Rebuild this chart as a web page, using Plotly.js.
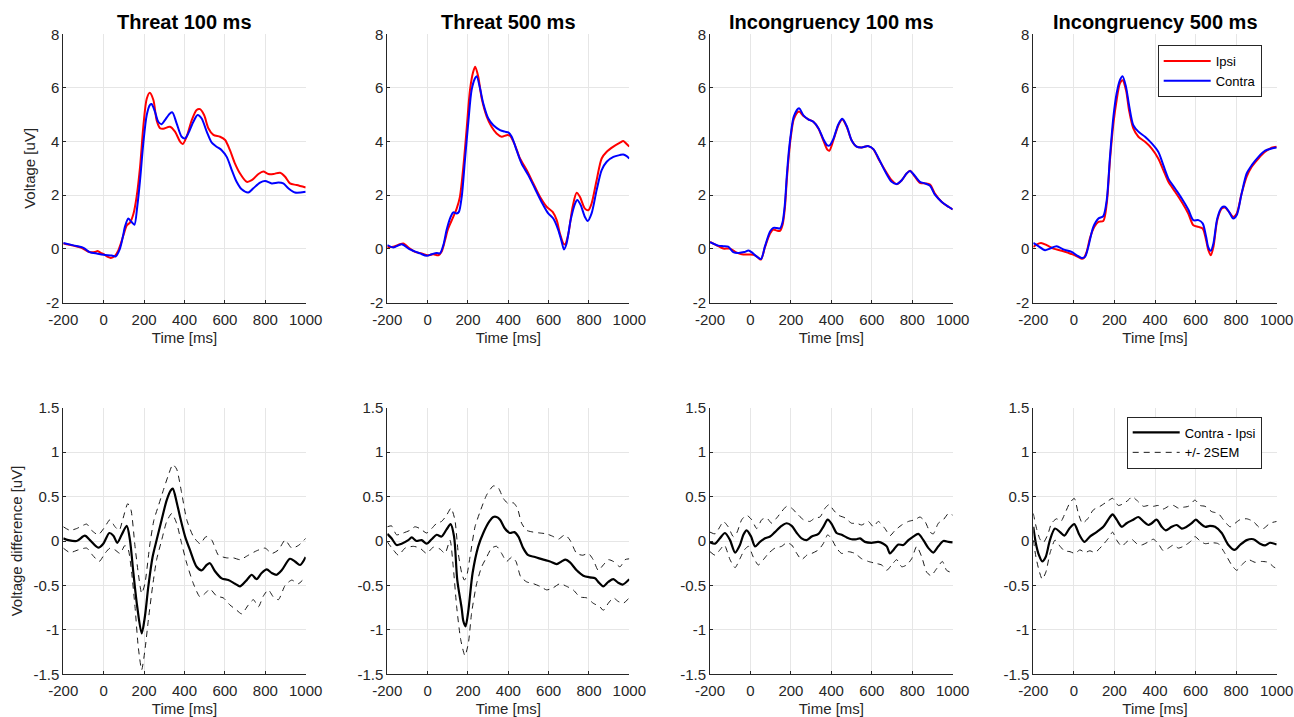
<!DOCTYPE html>
<html>
<head>
<meta charset="utf-8">
<script src="https://cdn.plot.ly/plotly-3.0.1.min.js"></script>
<style>html,body{margin:0;padding:0;background:#fff;}#chart{width:1294px;height:717px;}</style>
</head>
<body>
<div id="chart"></div>
<script>
// ---------- DATA (time in ms, voltage in uV) ----------
const panelTitles = ['Threat 100 ms', 'Threat 500 ms', 'Incongruency 100 ms', 'Incongruency 500 ms'];
const xTickVals = [-200, 0, 200, 400, 600, 800, 1000];
const xTickText = ['-200', '0', '200', '400', '600', '800', '1000'];
const yTopTickVals = [-2, 0, 2, 4, 6, 8];
const yTopTickText = ['-2', '0', '2', '4', '6', '8'];
const yBotTickVals = [-1.5, -1, -0.5, 0, 0.5, 1, 1.5];
const yBotTickText = ['-1.5', '-1', '-0.5', '0', '0.5', '1', '1.5'];

// Top row: Ipsi / Contra
const threat100_ipsi = [[-200,0.2],[-150,0.12],[-110,0.04],[-70,-0.12],[-45,-0.12],[-30,-0.08],[-15,-0.15],[0,-0.2],[20,-0.3],[35,-0.34],[55,-0.27],[70,-0.1],[85,0.2],[100,0.57],[115,0.88],[130,0.98],[147,1.3],[163,1.95],[180,3.06],[196,4.55],[213,5.6],[228,5.82],[246,5.55],[262,4.8],[279,4.5],[295,4.48],[328,4.55],[353,4.37],[378,4.0],[391,3.91],[411,4.19],[436,4.8],[460,5.18],[477,5.21],[497,4.99],[518,4.5],[543,4.25],[576,4.18],[601,4.06],[625,3.68],[650,3.18],[675,2.81],[708,2.5],[733,2.56],[766,2.79],[790,2.88],[815,2.79],[840,2.79],[873,2.84],[898,2.69],[922,2.44],[955,2.38],[1000,2.29]];
const threat100_contra = [[-200,0.22],[-150,0.13],[-100,0.04],[-70,-0.12],[-30,-0.18],[0,-0.22],[40,-0.25],[60,-0.28],[80,0.0],[95,0.45],[105,0.82],[122,1.13],[138,1.0],[152,0.9],[166,1.57],[180,2.56],[196,3.93],[213,4.99],[229,5.37],[237,5.4],[254,5.11],[270,4.74],[287,4.65],[303,4.8],[328,5.05],[340,5.09],[361,4.68],[386,4.18],[403,4.12],[419,4.31],[444,4.74],[465,4.99],[485,4.86],[510,4.37],[535,3.96],[559,3.81],[584,3.68],[609,3.43],[634,2.94],[658,2.5],[683,2.22],[716,2.1],[741,2.26],[774,2.47],[799,2.53],[832,2.44],[865,2.47],[889,2.44],[914,2.26],[947,2.1],[1000,2.13]];

const threat500_ipsi = [[-200,0.07],[-170,0.08],[-137,0.17],[-121,0.2],[-88,0.01],[-63,-0.11],[-30,-0.17],[0,-0.24],[28,-0.2],[53,-0.24],[69,-0.11],[86,0.32],[102,0.76],[127,1.19],[144,1.5],[160,1.94],[177,3.06],[193,4.43],[210,5.92],[226,6.6],[236,6.79],[251,6.42],[268,5.61],[293,4.93],[317,4.55],[342,4.3],[367,4.18],[392,4.24],[408,4.22],[433,3.87],[458,3.37],[491,2.94],[524,2.44],[557,1.94],[590,1.57],[620,1.38],[640,1.07],[656,0.57],[673,0.2],[681,0.16],[698,0.57],[719,1.57],[739,2.09],[755,1.94],[780,1.5],[797,1.44],[813,1.69],[838,2.56],[863,3.37],[888,3.62],[921,3.81],[954,3.96],[970,4.02],[987,3.91],[1000,3.81]];
const threat500_contra = [[-200,0.14],[-170,0.05],[-129,0.17],[-88,-0.02],[-38,-0.17],[-5,-0.26],[20,-0.2],[45,-0.15],[61,-0.17],[78,0.14],[94,0.7],[114,1.19],[127,1.36],[144,1.32],[155,1.38],[169,1.94],[185,3.31],[202,4.74],[218,5.92],[235,6.36],[243,6.44],[260,5.98],[276,5.42],[301,4.86],[326,4.61],[359,4.43],[383,4.37],[400,4.34],[417,4.18],[441,3.68],[466,3.18],[499,2.75],[532,2.25],[565,1.75],[598,1.32],[623,1.13],[648,0.7],[665,0.26],[676,-0.02],[689,0.2],[709,1.07],[731,1.69],[742,1.82],[759,1.63],[780,1.19],[794,1.04],[813,1.32],[838,2.19],[863,2.94],[888,3.25],[921,3.43],[954,3.5],[970,3.52],[987,3.46],[1000,3.37]];

const incong100_ipsi = [[-200,0.26],[-159,0.1],[-134,0.01],[-101,0.01],[-68,-0.14],[-35,-0.21],[0,-0.21],[23,-0.24],[42,-0.36],[52,-0.4],[72,0.07],[97,0.57],[113,0.72],[130,0.68],[146,0.67],[159,0.9],[170,1.5],[180,2.6],[190,3.5],[200,4.2],[215,4.85],[240,5.12],[262,4.95],[286,4.83],[311,4.74],[336,4.49],[360,4.05],[380,3.7],[390,3.66],[410,4.05],[435,4.61],[454,4.82],[476,4.55],[500,4.05],[525,3.81],[550,3.78],[583,3.83],[608,3.71],[632,3.37],[665,2.94],[698,2.56],[723,2.41],[748,2.56],[772,2.81],[789,2.91],[813,2.69],[838,2.46],[863,2.44],[888,2.4],[912,2.06],[946,1.75],[979,1.57],[1000,1.47]];
const incong100_contra = [[-200,0.25],[-159,0.12],[-134,0.1],[-110,0.08],[-85,-0.12],[-60,-0.15],[-30,-0.12],[-10,-0.06],[10,-0.15],[30,-0.28],[52,-0.38],[72,0.1],[97,0.65],[113,0.78],[130,0.78],[146,0.76],[159,1.0],[170,1.65],[180,2.75],[190,3.65],[200,4.3],[215,4.95],[240,5.24],[262,4.98],[286,4.83],[311,4.74],[336,4.5],[360,4.1],[380,3.86],[392,3.86],[410,4.1],[435,4.65],[454,4.85],[476,4.58],[500,4.05],[525,3.81],[550,3.78],[583,3.83],[608,3.72],[632,3.4],[665,2.9],[698,2.5],[723,2.42],[748,2.56],[772,2.81],[789,2.9],[813,2.72],[838,2.5],[863,2.44],[888,2.35],[912,2.02],[946,1.75],[979,1.57],[1000,1.47]];

const incong500_ipsi = [[-200,0.07],[-184,0.16],[-162,0.22],[-134,0.14],[-101,0.01],[-60,-0.07],[-27,-0.15],[5,-0.24],[35,-0.36],[47,-0.36],[63,-0.11],[79,0.39],[101,0.82],[121,1.01],[145,1.04],[162,1.69],[178,3.31],[195,4.68],[211,5.55],[227,6.17],[240,6.29],[257,5.92],[272,5.17],[293,4.49],[318,4.18],[351,3.99],[384,3.74],[416,3.37],[441,2.94],[466,2.5],[499,2.13],[532,1.75],[564,1.32],[589,0.88],[614,0.82],[635,0.76],[652,0.32],[663,-0.05],[675,-0.24],[688,0.07],[707,1.07],[729,1.5],[745,1.54],[765,1.38],[786,1.19],[803,1.32],[827,2.06],[852,2.69],[877,3.06],[910,3.37],[943,3.62],[975,3.77],[1000,3.81]];
const incong500_contra = [[-200,0.22],[-175,0.1],[-142,-0.05],[-118,0.01],[-85,0.1],[-52,-0.02],[-11,-0.11],[14,-0.24],[38,-0.34],[55,-0.3],[71,0.07],[96,0.82],[121,1.13],[145,1.22],[162,1.82],[178,3.43],[195,4.93],[211,5.8],[227,6.29],[240,6.44],[257,6.04],[272,5.36],[293,4.61],[318,4.37],[351,4.18],[384,3.93],[416,3.62],[441,3.12],[466,2.62],[499,2.25],[532,1.88],[564,1.47],[589,1.07],[614,1.07],[635,0.95],[652,0.45],[663,0.05],[675,-0.07],[688,0.2],[707,1.13],[729,1.54],[745,1.57],[765,1.38],[786,1.13],[803,1.26],[827,2.06],[852,2.81],[877,3.12],[910,3.43],[943,3.66],[975,3.74],[1000,3.78]];

// Bottom row: Contra - Ipsi and +/- 2SEM bounds
const threat100_diff = [[-200,0.03],[-175,0.01],[-134,0],[-93,0.06],[-68,0.01],[-27,-0.075],[-2,-0.03],[28,0.09],[48,0.06],[67,-0.02],[89,0.07],[114,0.17],[130,0.01],[147,-0.36],[166,-0.74],[188,-1.04],[204,-0.85],[221,-0.51],[242,-0.18],[262,0.01],[287,0.24],[312,0.46],[332,0.57],[342,0.59],[361,0.44],[378,0.27],[403,0.05],[427,-0.1],[460,-0.29],[485,-0.33],[510,-0.27],[526,-0.25],[551,-0.34],[584,-0.42],[617,-0.44],[650,-0.48],[675,-0.51],[708,-0.44],[733,-0.38],[757,-0.43],[782,-0.36],[807,-0.32],[832,-0.36],[856,-0.38],[881,-0.33],[922,-0.2],[947,-0.23],[972,-0.27],[1000,-0.18]];
const threat100_upper = [[-200,0.16],[-167,0.12],[-134,0.14],[-84,0.19],[-60,0.12],[-27,0.07],[6,0.16],[31,0.24],[56,0.16],[77,0.12],[94,0.24],[119,0.42],[135,0.35],[155,-0.06],[171,-0.36],[188,-0.59],[204,-0.48],[229,-0.03],[249,0.24],[270,0.39],[295,0.57],[320,0.74],[342,0.86],[361,0.81],[386,0.54],[411,0.24],[444,0.05],[477,-0.03],[507,0.05],[535,0.01],[568,-0.16],[609,-0.19],[642,-0.19],[675,-0.21],[716,-0.16],[757,-0.11],[799,-0.08],[832,-0.14],[865,-0.1],[898,0.01],[931,-0.08],[964,-0.05],[1000,0.03]];
const threat100_lower = [[-200,-0.08],[-167,-0.13],[-126,-0.1],[-84,-0.08],[-55,-0.16],[-22,-0.23],[6,-0.14],[31,-0.08],[56,-0.1],[81,-0.14],[105,-0.05],[122,-0.1],[138,-0.35],[155,-0.74],[171,-1.19],[188,-1.45],[204,-1.23],[221,-0.89],[242,-0.51],[262,-0.21],[287,0.01],[312,0.22],[337,0.31],[361,0.2],[386,-0.03],[411,-0.25],[444,-0.48],[477,-0.63],[502,-0.59],[526,-0.54],[559,-0.62],[592,-0.64],[625,-0.72],[659,-0.78],[683,-0.82],[716,-0.72],[741,-0.66],[766,-0.74],[790,-0.62],[815,-0.55],[840,-0.63],[865,-0.66],[898,-0.5],[931,-0.44],[964,-0.48],[1000,-0.4]];

const threat500_diff = [[-200,0.08],[-179,0.03],[-154,-0.045],[-129,-0.03],[-96,0.01],[-79,0.04],[-55,0],[-30,0.01],[-5,-0.03],[20,0.02],[45,0.07],[69,0.05],[94,0.13],[114,0.19],[131,0.05],[147,-0.44],[169,-0.76],[177,-0.9],[188,-0.96],[202,-0.78],[223,-0.36],[251,-0.06],[276,0.09],[306,0.22],[326,0.27],[342,0.27],[359,0.24],[383,0.14],[408,0.09],[430,0.1],[450,0.05],[474,-0.08],[499,-0.16],[532,-0.18],[574,-0.21],[607,-0.23],[640,-0.26],[664,-0.23],[684,-0.21],[706,-0.24],[739,-0.33],[772,-0.39],[806,-0.41],[830,-0.42],[846,-0.46],[871,-0.51],[896,-0.46],[921,-0.43],[945,-0.47],[967,-0.49],[1000,-0.43]];
const threat500_upper = [[-200,0.16],[-179,0.17],[-154,0.07],[-121,0.09],[-88,0.12],[-63,0.16],[-38,0.14],[-5,0.09],[20,0.14],[45,0.2],[69,0.22],[94,0.29],[116,0.37],[135,0.24],[152,-0.14],[169,-0.36],[182,-0.44],[193,-0.4],[210,-0.18],[235,0.16],[260,0.33],[293,0.52],[326,0.62],[350,0.6],[375,0.48],[400,0.42],[425,0.43],[445,0.37],[466,0.2],[491,0.12],[524,0.1],[557,0.09],[590,0.08],[623,0.05],[648,0.02],[681,0.07],[706,0.01],[739,-0.14],[769,-0.16],[797,-0.14],[821,-0.21],[846,-0.33],[871,-0.27],[896,-0.21],[921,-0.23],[954,-0.29],[979,-0.21],[1000,-0.2]];
const threat500_lower = [[-200,-0.01],[-170,-0.1],[-145,-0.16],[-112,-0.08],[-71,-0.06],[-38,-0.08],[-5,-0.14],[28,-0.07],[61,-0.09],[86,-0.14],[111,0.01],[127,-0.29],[144,-0.74],[164,-1.11],[185,-1.29],[202,-1.15],[218,-0.81],[243,-0.48],[268,-0.29],[293,-0.18],[317,-0.08],[342,-0.06],[367,-0.14],[392,-0.23],[417,-0.18],[438,-0.23],[461,-0.4],[491,-0.46],[524,-0.48],[557,-0.51],[590,-0.55],[620,-0.53],[656,-0.48],[689,-0.51],[722,-0.55],[755,-0.63],[789,-0.64],[821,-0.7],[854,-0.74],[871,-0.78],[896,-0.7],[921,-0.64],[945,-0.68],[970,-0.7],[1000,-0.64]];

const incong100_diff = [[-200,-0.015],[-175,-0.03],[-151,0.03],[-126,0.09],[-101,0.01],[-76,-0.13],[-52,-0.045],[-35,0.07],[-19,0.12],[3,0.05],[23,-0.06],[47,-0.01],[72,0.03],[97,0.05],[121,0.1],[154,0.17],[179,0.2],[204,0.17],[229,0.09],[253,0.03],[278,0.01],[303,0.05],[336,0.08],[360,0.16],[382,0.24],[402,0.19],[426,0.09],[451,0.07],[476,0.04],[500,0.02],[525,0.02],[542,0.03],[566,-0.01],[599,-0.02],[632,-0.01],[657,-0.03],[674,-0.06],[690,-0.14],[707,-0.1],[731,-0.04],[756,-0.045],[781,0.01],[805,0.05],[830,0.08],[855,0.01],[880,-0.08],[904,-0.13],[929,-0.06],[954,0],[979,-0.01],[1000,-0.015]];
const incong100_upper = [[-200,0.1],[-175,0.08],[-151,0.16],[-134,0.22],[-110,0.16],[-85,0.05],[-68,0.09],[-43,0.24],[-19,0.29],[6,0.24],[31,0.14],[56,0.24],[80,0.26],[105,0.2],[130,0.26],[154,0.33],[179,0.39],[204,0.37],[229,0.31],[262,0.24],[294,0.22],[319,0.26],[344,0.27],[369,0.37],[389,0.41],[410,0.35],[435,0.29],[468,0.26],[500,0.2],[525,0.2],[550,0.18],[583,0.22],[608,0.16],[632,0.22],[665,0.14],[690,0.06],[715,0.12],[748,0.18],[781,0.22],[814,0.24],[838,0.27],[863,0.22],[888,0.1],[904,0.08],[929,0.2],[954,0.24],[979,0.31],[1000,0.29]];
const incong100_lower = [[-200,-0.12],[-175,-0.16],[-151,-0.1],[-129,-0.045],[-101,-0.21],[-76,-0.3],[-52,-0.2],[-30,-0.1],[-10,-0.06],[14,-0.18],[39,-0.27],[64,-0.21],[89,-0.14],[121,-0.08],[154,-0.06],[179,-0.02],[204,-0.045],[229,-0.14],[253,-0.21],[278,-0.16],[303,-0.14],[336,-0.1],[360,-0.03],[382,0.07],[402,0.02],[426,-0.08],[451,-0.14],[484,-0.12],[517,-0.14],[550,-0.2],[583,-0.23],[616,-0.25],[649,-0.27],[674,-0.33],[698,-0.27],[723,-0.21],[748,-0.29],[772,-0.27],[797,-0.2],[822,-0.06],[847,-0.18],[871,-0.35],[893,-0.39],[921,-0.31],[949,-0.23],[970,-0.33],[1000,-0.36]];

const incong500_diff = [[-200,0.16],[-187,-0.03],[-172,-0.16],[-156,-0.23],[-139,-0.18],[-118,0.01],[-93,0.14],[-68,0.1],[-47,0.06],[-22,0.14],[2,0.19],[27,0.07],[52,-0.01],[79,0.05],[112,0.1],[145,0.16],[178,0.27],[191,0.3],[211,0.24],[236,0.16],[260,0.2],[293,0.24],[318,0.27],[343,0.22],[367,0.18],[384,0.2],[408,0.24],[433,0.16],[453,0.12],[482,0.16],[507,0.18],[532,0.14],[556,0.16],[581,0.2],[601,0.24],[622,0.2],[647,0.16],[671,0.17],[696,0.16],[729,0.09],[762,-0.045],[792,-0.1],[819,-0.045],[852,0.01],[885,0.02],[918,-0.03],[943,-0.05],[967,-0.02],[1000,-0.04]];
const incong500_upper = [[-200,0.31],[-184,0.14],[-167,0.02],[-151,-0.02],[-129,0.07],[-110,0.2],[-85,0.25],[-64,0.22],[-44,0.31],[-22,0.42],[2,0.48],[22,0.31],[42,0.2],[68,0.25],[96,0.35],[129,0.39],[162,0.44],[191,0.48],[219,0.4],[244,0.42],[268,0.46],[288,0.5],[318,0.44],[343,0.39],[367,0.4],[392,0.39],[416,0.4],[441,0.36],[466,0.39],[491,0.4],[515,0.37],[540,0.38],[564,0.39],[597,0.46],[622,0.4],[647,0.39],[680,0.33],[712,0.31],[737,0.24],[770,0.16],[795,0.2],[819,0.24],[852,0.25],[885,0.22],[910,0.16],[934,0.14],[967,0.2],[1000,0.22]];
const incong500_lower = [[-200,0.01],[-187,-0.18],[-172,-0.33],[-156,-0.43],[-138,-0.35],[-118,-0.14],[-93,0.01],[-68,-0.06],[-47,-0.11],[-19,-0.12],[5,-0.14],[30,-0.1],[55,-0.13],[79,-0.11],[104,-0.13],[137,-0.06],[170,0.03],[191,0.1],[211,0.01],[236,-0.06],[260,-0.01],[285,0.02],[310,-0.03],[334,-0.045],[367,-0.01],[392,0.02],[416,-0.03],[441,-0.11],[466,-0.08],[491,-0.045],[515,-0.08],[540,-0.06],[573,-0.01],[597,0.05],[622,0],[647,-0.03],[680,-0.02],[712,-0.03],[745,-0.14],[778,-0.27],[803,-0.33],[827,-0.27],[860,-0.21],[893,-0.24],[926,-0.23],[959,-0.24],[984,-0.29],[1000,-0.31]];

const topSeries = [
  [threat100_ipsi, threat100_contra],
  [threat500_ipsi, threat500_contra],
  [incong100_ipsi, incong100_contra],
  [incong500_ipsi, incong500_contra]
];
const botSeries = [
  [threat100_diff, threat100_upper, threat100_lower],
  [threat500_diff, threat500_upper, threat500_lower],
  [incong100_diff, incong100_upper, incong100_lower],
  [incong500_diff, incong500_upper, incong500_lower]
];

// ---------- LAYOUT ----------
const W = 1294, H = 717;
const FONT = 'Liberation Sans, Arial, Helvetica, sans-serif';
const AX = '#262626';
const GRID = '#e6e6e6';
const colPx = [[63.3, 305.7], [387.3, 629.3], [710, 952.7], [1033.3, 1276.7]];
const rowPx = [[34.3, 302.5], [407.7, 674.3]];
const colDom = colPx.map(c => [c[0] / W, c[1] / W]);
const rowDom = rowPx.map(r => [1 - r[1] / H, 1 - r[0] / H]);

function xy(pairs) { return { x: pairs.map(p => p[0]), y: pairs.map(p => p[1]) }; }

const traces = [];
const layout = {
  width: W, height: H, autosize: false,
  margin: { l: 0, r: 0, t: 0, b: 0, pad: 0 },
  paper_bgcolor: '#fff', plot_bgcolor: '#fff',
  font: { family: FONT, size: 15, color: AX },
  showlegend: true,
  annotations: [],
  legend: {
    x: 1157.7 / W, y: 1 - 45 / H, xref: 'paper', yref: 'paper', xanchor: 'left', yanchor: 'top',
    bgcolor: '#fff', bordercolor: AX, borderwidth: 1, font: { family: FONT, size: 13, color: '#000' },
    tracegroupgap: 0, itemwidth: 47, itemclick: false
  },
  legend2: {
    x: 1126.7 / W, y: 1 - 416.5 / H, xref: 'paper', yref: 'paper', xanchor: 'left', yanchor: 'top',
    bgcolor: '#fff', bordercolor: AX, borderwidth: 1, font: { family: FONT, size: 13, color: '#000' },
    tracegroupgap: 0, itemwidth: 47, itemclick: false
  }
};

function axisBase() {
  return {
    showgrid: true, gridcolor: GRID, gridwidth: 1,
    showline: true, linecolor: AX, linewidth: 1,
    ticks: 'inside', ticklen: 3, tickcolor: AX, tickwidth: 1,
    zeroline: false, fixedrange: true,
    tickfont: { family: FONT, size: 15, color: AX }
  };
}

for (let r = 0; r < 2; r++) {
  for (let c = 0; c < 4; c++) {
    const i = r * 4 + c + 1;
    const xa = Object.assign(axisBase(), {
      domain: colDom[c], anchor: 'y' + i, range: [-200, 1000],
      tickmode: 'array', tickvals: xTickVals, ticktext: xTickText,
      ticklabelstandoff: 3,
      title: { text: 'Time [ms]', font: { family: FONT, size: 15, color: AX }, standoff: 5 }
    });
    const ya = Object.assign(axisBase(), {
      domain: rowDom[r], anchor: 'x' + i,
      range: r === 0 ? [-2, 8] : [-1.5, 1.5],
      tickmode: 'array',
      tickvals: r === 0 ? yTopTickVals : yBotTickVals,
      ticktext: r === 0 ? yTopTickText : yBotTickText
    });
    if (c === 0) {
      ya.title = { text: r === 0 ? 'Voltage [uV]' : 'Voltage difference [uV]', font: { family: FONT, size: 15, color: AX }, standoff: r === 0 ? 6 : 7 };
    }
    layout['xaxis' + i] = xa;
    layout['yaxis' + i] = ya;

    if (r === 0) {
      const [ipsi, contra] = topSeries[c];
      const a = xy(ipsi), b = xy(contra);
      traces.push({
        type: 'scatter', mode: 'lines', x: a.x, y: a.y, xaxis: 'x' + i, yaxis: 'y' + i,
        name: 'Ipsi', legend: 'legend', showlegend: c === 3, hoverinfo: 'skip',
        line: { color: '#ff0000', width: 2, shape: 'spline', smoothing: 0.8 }
      });
      traces.push({
        type: 'scatter', mode: 'lines', x: b.x, y: b.y, xaxis: 'x' + i, yaxis: 'y' + i,
        name: 'Contra', legend: 'legend', showlegend: c === 3, hoverinfo: 'skip',
        line: { color: '#0000ff', width: 2, shape: 'spline', smoothing: 0.8 }
      });
      layout.annotations.push({
        text: '<b>' + panelTitles[c] + '</b>', xref: 'paper', yref: 'paper',
        x: (colDom[c][0] + colDom[c][1]) / 2, y: 1 - 22 / H, xanchor: 'center', yanchor: 'middle',
        showarrow: false, font: { family: FONT, size: 20, color: '#000' }
      });
    } else {
      const [m, u, l] = botSeries[c];
      const mm = xy(m), uu = xy(u), ll = xy(l);
      traces.push({
        type: 'scatter', mode: 'lines', x: uu.x, y: uu.y, xaxis: 'x' + i, yaxis: 'y' + i,
        name: '+/- 2SEM', legend: 'legend2', legendrank: 2, showlegend: c === 3, hoverinfo: 'skip',
        line: { color: '#1a1a1a', width: 1, dash: '6px,5px', shape: 'spline', smoothing: 0.6 }
      });
      traces.push({
        type: 'scatter', mode: 'lines', x: ll.x, y: ll.y, xaxis: 'x' + i, yaxis: 'y' + i,
        name: '+/- 2SEM', legend: 'legend2', showlegend: false, hoverinfo: 'skip',
        line: { color: '#1a1a1a', width: 1, dash: '6px,5px', shape: 'spline', smoothing: 0.6 }
      });
      traces.push({
        type: 'scatter', mode: 'lines', x: mm.x, y: mm.y, xaxis: 'x' + i, yaxis: 'y' + i,
        name: 'Contra - Ipsi', legend: 'legend2', legendrank: 1, showlegend: c === 3, hoverinfo: 'skip',
        line: { color: '#000', width: 2.2, shape: 'spline', smoothing: 0.8 }
      });
    }
  }
}

Plotly.newPlot('chart', traces, layout, { displayModeBar: false, staticPlot: true });
</script>
</body>
</html>
